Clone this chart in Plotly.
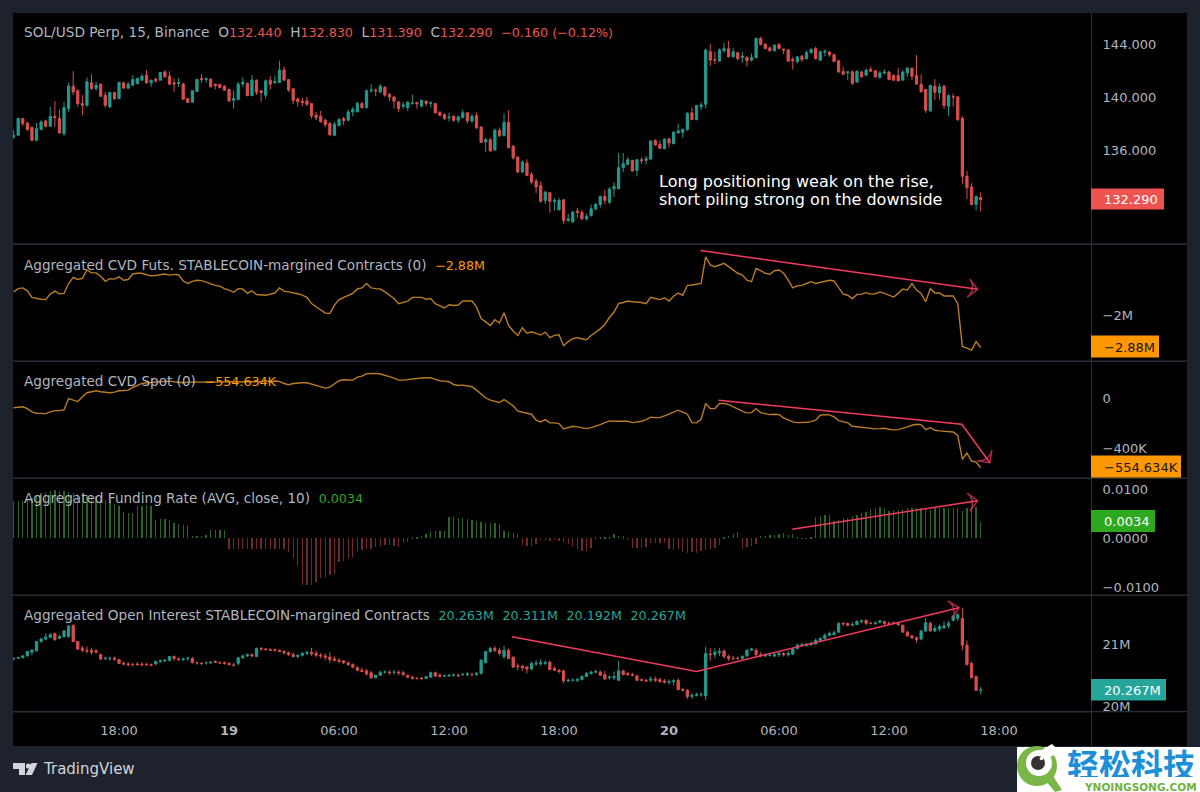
import plotly.graph_objects as go
import pandas as pd

# 15 minute bars
times = pd.date_range("2024-04-18 12:15", periods=212, freq="15min")

price_open = [
    137.00,137.13,138.39,138.06,137.71,136.75,137.56,138.21,137.81,138.56,
    138.39,137.26,139.14,140.83,140.48,139.52,139.39,141.08,140.65,140.98,
    140.15,139.27,140.35,139.90,141.08,140.68,140.90,141.03,141.28,141.66,
    141.08,141.36,141.28,141.91,141.58,141.08,141.03,141.00,139.90,139.62,
    140.43,141.41,141.33,141.36,140.98,140.95,140.83,140.58,139.77,139.82,
    141.00,141.05,140.12,141.28,140.48,140.15,141.28,141.08,141.11,142.04,
    141.33,140.63,139.87,139.70,139.72,139.52,138.64,138.56,138.26,138.01,
    137.13,137.86,138.39,138.26,138.89,138.89,139.52,139.22,140.48,140.53,
    140.40,140.75,140.20,140.02,139.65,139.32,139.22,139.50,139.60,139.32,
    139.70,139.52,139.52,138.87,138.69,138.46,138.56,138.26,138.46,138.82,
    138.21,138.61,137.76,136.63,136.80,136.02,137.51,137.10,138.11,136.30,
    135.49,134.36,135.04,134.19,133.68,133.33,132.22,132.80,132.15,131.52,
    132.27,130.71,130.61,131.42,131.32,130.84,131.07,131.59,131.92,132.53,
    132.07,133.10,133.10,134.69,134.94,135.24,134.49,135.29,135.24,135.34,
    136.75,136.45,136.12,136.85,136.50,137.31,137.36,137.56,138.82,138.31,
    139.27,139.47,143.42,142.84,142.72,143.50,143.65,143.04,143.35,142.99,
    142.99,142.79,142.97,144.43,144.00,143.72,143.50,143.95,143.62,143.55,
    142.84,142.67,143.09,142.89,143.35,143.67,142.79,143.39,143.39,143.19,
    142.74,141.94,141.83,141.91,141.13,141.89,141.66,142.09,141.99,141.48,
    141.83,141.89,141.63,141.63,141.28,141.83,142.19,141.63,140.98,140.58,
    138.97,140.83,140.33,140.83,139.32,140.07,140.02,138.41,134.04,133.23,131.92,132.44]
price_high = [
    137.51,138.46,138.44,138.14,137.81,138.06,138.26,138.31,139.27,139.72,
    139.07,139.65,141.08,141.96,140.58,140.15,141.48,141.73,141.16,141.03,
    140.40,140.40,140.40,141.16,141.16,141.16,141.66,141.48,141.73,142.04,
    141.33,141.48,141.91,142.01,141.96,141.41,141.46,141.08,139.95,140.53,
    141.41,141.73,141.48,141.41,141.03,141.03,140.90,140.65,140.53,141.16,
    141.48,141.08,141.66,141.33,140.53,141.33,141.58,141.63,142.74,142.31,
    141.33,140.65,139.97,139.97,140.02,139.55,138.89,138.97,138.39,138.14,
    138.14,138.46,138.51,139.07,139.27,139.65,139.65,140.58,140.98,140.65,
    140.98,140.83,140.33,140.07,139.70,139.65,139.72,140.20,139.65,139.82,
    139.77,139.70,139.57,138.94,138.77,138.84,138.64,138.64,139.07,138.87,
    138.72,138.84,137.81,136.93,136.95,137.63,137.71,138.77,139.02,136.40,
    135.54,135.24,135.32,134.36,133.86,133.68,132.93,132.85,132.43,132.43,
    132.30,131.22,131.42,131.67,131.52,131.22,131.92,132.02,132.58,133.03,
    133.23,133.61,135.80,135.80,135.49,135.29,135.34,135.49,135.57,136.75,
    136.83,136.75,136.90,136.95,137.43,138.01,137.66,138.89,139.22,139.42,
    139.60,143.67,144.00,143.42,143.67,144.10,144.23,143.72,143.42,143.42,
    143.09,143.29,144.50,144.55,144.05,143.80,143.97,144.10,143.67,143.62,
    143.04,143.09,143.17,143.50,143.67,143.80,143.50,143.60,143.50,143.29,
    142.79,142.29,141.99,142.04,142.04,141.99,142.16,142.29,142.04,141.99,
    142.09,141.99,141.73,142.19,142.04,142.24,142.21,143.17,141.73,140.63,
    140.95,141.36,141.03,140.93,140.23,140.28,140.07,138.56,134.44,133.53,132.58,132.83]
price_low = [
    136.88,137.13,137.81,137.46,136.70,136.70,137.56,137.71,137.81,137.76,
    137.26,137.05,138.89,140.15,139.27,138.64,139.27,140.53,140.48,140.02,
    139.19,139.19,139.82,139.87,140.65,140.63,140.88,140.95,141.23,141.03,
    140.78,141.08,141.28,141.48,140.95,140.40,140.78,139.82,139.55,139.60,
    140.38,141.08,141.08,140.73,140.58,140.65,140.48,139.65,139.14,139.77,
    140.78,140.07,140.07,140.17,139.65,139.90,140.58,141.03,141.08,141.26,
    140.40,139.47,139.27,139.32,139.32,138.39,138.26,138.06,137.76,137.11,
    137.05,137.81,137.89,138.21,138.56,138.87,139.14,139.14,140.33,140.07,
    140.28,140.02,139.72,139.14,138.89,139.12,138.97,139.47,139.14,139.27,
    139.32,139.22,138.77,138.56,138.26,138.16,138.14,138.06,138.41,138.01,
    138.06,137.63,136.55,135.87,135.90,136.00,137.00,137.05,136.15,135.29,
    134.29,134.29,134.04,133.43,132.78,132.07,131.97,131.29,131.47,131.47,
    130.46,130.61,130.51,130.92,130.76,130.71,131.02,131.47,131.67,131.92,
    131.97,132.48,133.10,134.36,134.87,134.39,134.04,134.99,134.94,135.29,
    136.35,136.10,136.07,136.20,136.45,137.26,136.95,137.46,138.26,138.26,
    139.02,139.14,142.34,142.49,142.67,143.35,142.99,142.99,142.79,142.59,
    142.29,142.69,142.92,143.90,143.60,143.42,143.45,143.60,143.24,142.67,
    142.09,142.54,142.67,142.84,143.29,142.84,142.74,143.09,143.04,142.64,
    141.83,141.68,141.28,140.93,141.08,141.48,141.58,141.89,141.48,141.41,
    141.68,141.28,141.23,141.18,141.23,141.53,141.28,140.93,140.33,138.82,
    138.87,139.77,139.82,139.12,138.59,139.27,138.21,133.48,132.32,131.87,131.47,131.39]
price_close = [
    137.13,138.39,138.01,137.56,136.75,137.63,138.14,137.81,138.56,138.46,
    137.31,139.22,140.83,140.40,139.52,139.39,141.16,140.65,140.90,140.07,
    139.39,140.35,139.87,141.11,140.68,140.98,141.33,141.41,141.58,141.08,
    141.28,141.23,141.86,141.53,140.98,141.00,141.11,139.85,139.60,140.48,
    141.33,141.33,141.41,140.78,140.88,140.73,140.53,139.72,139.90,140.98,
    141.13,140.12,141.28,140.38,140.35,141.23,140.98,141.18,142.04,141.28,
    140.53,139.77,139.65,139.60,139.47,138.59,138.44,138.16,137.94,137.16,
    137.96,138.31,138.24,138.89,139.07,139.52,139.22,140.48,140.53,140.48,
    140.83,140.15,140.02,139.70,139.14,139.42,139.62,139.55,139.50,139.77,
    139.52,139.57,138.82,138.64,138.39,138.51,138.26,138.51,138.82,138.21,
    138.56,137.68,136.60,136.80,135.95,137.51,137.10,138.09,136.20,135.44,
    134.36,135.12,134.11,133.61,133.23,132.15,132.85,132.15,132.22,132.22,
    130.71,130.84,131.34,131.32,130.84,131.02,131.59,131.92,132.53,132.22,
    133.08,133.28,134.69,134.99,135.29,134.44,135.29,135.22,135.37,136.70,
    136.40,136.15,136.85,136.55,137.36,137.46,137.56,138.77,138.31,139.37,
    139.42,143.55,142.79,142.79,143.55,143.65,143.04,143.42,142.89,143.09,
    142.74,142.99,144.43,143.97,143.67,143.50,143.92,143.67,143.55,142.72,
    142.74,143.04,142.84,143.35,143.60,142.89,143.42,143.45,143.19,142.69,
    141.91,141.73,141.89,141.03,141.94,141.53,142.04,141.96,141.53,141.83,
    141.89,141.33,141.28,141.23,141.89,142.19,141.58,140.98,140.43,139.02,
    140.88,140.38,140.78,139.37,140.12,140.02,138.31,134.04,133.18,131.92,132.53,132.29]

cvd_futs = [
    -1.36,-1.27,-1.25,-1.33,-1.51,-1.54,-1.56,-1.57,-1.42,-1.34,
    -1.41,-1.40,-1.13,-0.96,-1.02,-0.99,-0.76,-0.84,-0.84,-0.93,
    -1.07,-1.00,-1.01,-0.95,-1.04,-1.02,-0.87,-0.85,-0.85,-0.89,
    -0.92,-0.91,-0.88,-0.87,-0.90,-0.88,-0.89,-1.06,-1.13,-1.07,
    -1.04,-1.05,-1.09,-1.14,-1.18,-1.20,-1.27,-1.31,-1.37,-1.27,
    -1.28,-1.40,-1.33,-1.43,-1.45,-1.45,-1.42,-1.39,-1.25,-1.34,
    -1.36,-1.38,-1.41,-1.45,-1.51,-1.68,-1.77,-1.84,-1.94,-1.95,
    -1.72,-1.57,-1.51,-1.45,-1.40,-1.28,-1.25,-1.13,-1.25,-1.27,
    -1.28,-1.36,-1.45,-1.54,-1.68,-1.65,-1.61,-1.51,-1.50,-1.51,
    -1.56,-1.54,-1.68,-1.74,-1.80,-1.71,-1.73,-1.72,-1.61,-1.61,
    -1.61,-1.77,-2.09,-2.18,-2.28,-2.12,-2.21,-1.93,-2.28,-2.43,
    -2.55,-2.34,-2.49,-2.45,-2.50,-2.54,-2.46,-2.61,-2.55,-2.53,
    -2.83,-2.72,-2.64,-2.61,-2.64,-2.67,-2.55,-2.46,-2.37,-2.25,
    -2.06,-1.91,-1.68,-1.65,-1.61,-1.63,-1.63,-1.65,-1.68,-1.51,
    -1.54,-1.57,-1.52,-1.61,-1.48,-1.39,-1.45,-1.18,-1.17,-1.15,
    -1.13,-0.40,-0.62,-0.67,-0.62,-0.58,-0.67,-0.76,-0.85,-0.90,
    -1.04,-1.08,-0.72,-0.78,-0.85,-0.88,-0.78,-0.76,-0.85,-1.04,
    -1.25,-1.19,-1.18,-1.13,-1.08,-1.13,-1.10,-1.06,-1.04,-1.06,
    -1.25,-1.42,-1.45,-1.55,-1.43,-1.42,-1.38,-1.42,-1.41,-1.36,
    -1.40,-1.45,-1.50,-1.40,-1.28,-1.31,-1.13,-1.31,-1.40,-1.63,
    -1.27,-1.39,-1.39,-1.47,-1.47,-1.47,-1.68,-2.85,-2.90,-2.95,-2.72,-2.88]

# thousands
cvd_spot = [
    -77,-75,-69,-83,-109,-120,-123,-123,-109,-99,
    -99,-93,-3,-16,-27,11,43,51,59,51,
    45,43,48,59,61,64,85,104,117,123,
    125,128,131,131,136,131,128,123,128,128,
    131,133,133,133,133,133,133,133,133,133,
    133,133,128,131,131,139,128,136,133,117,
    107,117,123,123,123,112,101,91,80,88,
    117,139,147,144,144,168,176,195,197,197,
    192,184,171,160,144,144,149,155,157,160,
    163,163,149,139,136,131,109,101,104,99,
    91,64,37,3,-16,-27,-35,-11,-37,-61,
    -104,-112,-123,-128,-176,-189,-171,-197,-197,-203,
    -245,-237,-224,-229,-237,-243,-235,-224,-211,-195,
    -181,-184,-184,-187,-184,-195,-189,-184,-171,-152,
    -155,-155,-141,-128,-109,-96,-112,-128,-195,-197,
    -168,-43,-83,-83,-43,-43,-51,-69,-91,-104,
    -117,-115,-83,-115,-123,-131,-128,-131,-157,-176,
    -189,-195,-195,-192,-187,-176,-136,-131,-133,-149,
    -179,-189,-197,-224,-229,-229,-235,-240,-245,-243,
    -240,-248,-253,-251,-237,-229,-216,-208,-211,-251,
    -235,-256,-261,-264,-269,-269,-296,-488,-437,-501,-509,-554.634]

funding = [
    .0077,.0077,.0079,.0081,.0082,.0086,.0092,.0095,.0097,.0098,
    .0097,.0096,.0095,.0092,.0091,.0090,.0089,.0088,.0086,.0084,
    .0079,.0075,.0070,.0065,.0053,.0051,.0051,.0065,.0066,.0067,
    .0066,.0038,.0039,.0040,.0038,.0032,.0029,.0027,.0027,.0005,
    .0005,.0005,.0006,.0017,.0017,.0017,.0017,-.0021,-.0021,-.0021,
    -.0021,-.0021,-.0021,-.0021,-.0021,-.0021,-.0021,-.0022,-.0022,-.0023,
    -.0029,-.0041,-.0056,-.0095,-.0095,-.0095,-.0090,-.0082,-.0079,-.0075,
    -.0074,-.0048,-.0047,-.0042,-.0040,-.0026,-.0024,-.0021,-.0021,-.0017,
    -.0015,-.0014,-.0014,-.0015,-.0017,-.0010,-.0007,.0002,.0003,.0005,
    .0008,.0015,.0015,.0015,.0015,.0043,.0043,.0042,.0041,.0040,
    .0038,.0036,.0034,.0032,.0031,.0031,.0029,.0014,.0012,.0010,
    .0008,-.0014,-.0015,-.0015,-.0012,-.0003,-.0003,-.0005,-.0004,-.0005,
    -.0007,-.0012,-.0017,-.0022,-.0026,-.0026,-.0019,.0002,.0001,.0002,
    .0003,.0008,.0005,.0004,-.0003,-.0019,-.0019,-.0019,-.0017,-.0010,
    -.0010,-.0010,-.0010,-.0021,-.0024,-.0022,-.0029,-.0031,-.0029,-.0031,
    -.0027,-.0024,-.0021,-.0019,-.0014,.0003,.0005,.0008,.0012,-.0021,
    -.0018,-.0016,-.0012,.0005,.0005,.0007,.0007,.0009,.0010,.0007,
    .0008,.0003,-.0001,-.0001,.0001,.0043,.0045,.0047,.0048,.0036,
    .0038,.0041,.0042,.0045,.0048,.0051,.0053,.0060,.0062,.0063,
    .0062,.0056,.0057,.0058,.0060,.0062,.0062,.0062,.0062,.0062,
    .0058,.0062,.0062,.0062,.0062,.0062,.0062,.0056,.0062,.0063,.0064,.0034]

oi_open = [
    20.76,20.77,20.78,20.81,20.87,20.89,21.04,21.08,21.11,21.17,
    21.09,21.12,21.12,21.30,21.04,20.93,20.90,20.90,20.89,20.83,
    20.77,20.77,20.77,20.75,20.69,20.68,20.67,20.68,20.68,20.67,
    20.67,20.68,20.72,20.73,20.74,20.80,20.76,20.75,20.77,20.77,
    20.70,20.69,20.70,20.70,20.72,20.70,20.70,20.69,20.66,20.69,
    20.78,20.81,20.83,20.80,20.93,20.92,20.91,20.91,20.90,20.88,
    20.86,20.83,20.80,20.82,20.85,20.87,20.85,20.82,20.81,20.79,
    20.76,20.74,20.73,20.70,20.67,20.62,20.58,20.57,20.54,20.46,
    20.50,20.55,20.55,20.55,20.55,20.54,20.50,20.47,20.45,20.45,
    20.45,20.47,20.54,20.50,20.49,20.49,20.50,20.50,20.51,20.51,
    20.51,20.51,20.53,20.70,20.88,20.93,20.90,20.80,20.90,20.79,
    20.65,20.64,20.63,20.60,20.68,20.69,20.69,20.71,20.61,20.58,
    20.57,20.41,20.42,20.42,20.43,20.48,20.53,20.55,20.55,20.51,
    20.46,20.46,20.42,20.57,20.53,20.51,20.49,20.43,20.42,20.42,
    20.44,20.43,20.41,20.39,20.40,20.42,20.27,20.26,20.16,20.18,
    20.19,20.17,20.84,20.83,20.86,20.89,20.80,20.77,20.77,20.77,
    20.81,20.90,20.90,20.83,20.81,20.82,20.81,20.83,20.85,20.83,
    20.84,20.93,20.98,20.98,20.99,21.00,21.06,21.09,21.14,21.15,
    21.19,21.33,21.33,21.30,21.31,21.36,21.38,21.33,21.33,21.35,
    21.36,21.33,21.34,21.33,21.30,21.19,21.13,21.10,21.08,21.21,
    21.33,21.21,21.24,21.26,21.29,21.38,21.41,21.41,20.98,20.69,20.48,20.263]
oi_high = [
    20.78,20.79,20.82,20.89,20.92,21.05,21.10,21.17,21.17,21.18,
    21.15,21.22,21.30,21.31,21.05,20.97,20.96,20.94,20.92,20.85,
    20.80,20.80,20.80,20.76,20.72,20.71,20.70,20.71,20.71,20.70,
    20.69,20.73,20.75,20.76,20.81,20.82,20.79,20.78,20.80,20.79,
    20.72,20.71,20.72,20.72,20.74,20.72,20.72,20.71,20.70,20.79,
    20.83,20.85,20.85,20.94,20.95,20.94,20.93,20.93,20.91,20.90,
    20.88,20.87,20.83,20.87,20.88,20.94,20.89,20.86,20.85,20.87,
    20.80,20.77,20.74,20.72,20.69,20.65,20.62,20.60,20.57,20.51,
    20.57,20.58,20.58,20.58,20.58,20.57,20.51,20.49,20.47,20.47,
    20.49,20.56,20.56,20.53,20.51,20.52,20.53,20.53,20.54,20.55,
    20.54,20.55,20.76,20.89,20.95,20.97,20.94,20.97,20.93,20.80,
    20.69,20.67,20.65,20.72,20.74,20.76,20.74,20.73,20.64,20.60,
    20.59,20.45,20.45,20.46,20.50,20.55,20.57,20.59,20.58,20.57,
    20.50,20.56,20.73,20.59,20.55,20.54,20.51,20.45,20.44,20.48,
    20.48,20.46,20.44,20.43,20.44,20.45,20.30,20.28,20.21,20.22,
    20.23,20.96,20.93,20.93,20.94,20.91,20.83,20.81,20.80,20.82,
    20.92,20.94,20.93,20.87,20.85,20.85,20.87,20.88,20.87,20.89,
    20.94,21.01,21.02,21.02,21.04,21.09,21.11,21.17,21.20,21.22,
    21.35,21.35,21.34,21.35,21.38,21.39,21.39,21.36,21.36,21.38,
    21.37,21.36,21.36,21.35,21.31,21.21,21.15,21.12,21.22,21.42,
    21.36,21.30,21.31,21.36,21.37,21.45,21.49,21.58,21.06,20.72,20.49,20.311]
oi_low = [
    20.74,20.76,20.77,20.80,20.82,20.88,21.02,21.06,21.09,21.05,
    21.08,21.10,21.10,21.03,20.90,20.87,20.85,20.83,20.85,20.74,
    20.74,20.73,20.73,20.68,20.66,20.64,20.64,20.65,20.64,20.65,
    20.65,20.66,20.70,20.71,20.72,20.73,20.73,20.73,20.73,20.69,
    20.67,20.66,20.67,20.68,20.70,20.68,20.67,20.66,20.64,20.66,
    20.76,20.79,20.79,20.79,20.89,20.90,20.89,20.88,20.87,20.83,
    20.81,20.78,20.77,20.80,20.82,20.81,20.79,20.77,20.74,20.70,
    20.72,20.70,20.68,20.65,20.61,20.57,20.55,20.50,20.44,20.45,
    20.49,20.53,20.51,20.51,20.50,20.49,20.45,20.43,20.43,20.42,
    20.44,20.46,20.47,20.47,20.47,20.47,20.48,20.48,20.49,20.48,
    20.49,20.49,20.51,20.69,20.86,20.87,20.82,20.76,20.76,20.62,
    20.58,20.57,20.53,20.58,20.65,20.65,20.66,20.58,20.57,20.53,
    20.37,20.39,20.40,20.39,20.42,20.47,20.51,20.53,20.49,20.43,
    20.43,20.42,20.41,20.50,20.49,20.48,20.41,20.40,20.39,20.39,
    20.39,20.38,20.37,20.35,20.34,20.26,20.24,20.12,20.12,20.16,
    20.16,20.10,20.73,20.77,20.81,20.77,20.73,20.74,20.74,20.75,
    20.79,20.89,20.80,20.79,20.79,20.80,20.79,20.79,20.80,20.80,
    20.82,20.91,20.96,20.96,20.97,20.99,21.04,21.07,21.12,21.14,
    21.18,21.29,21.28,21.29,21.30,21.33,21.30,21.31,21.30,21.33,
    21.30,21.30,21.31,21.29,21.18,21.12,21.08,21.02,21.06,21.19,
    21.20,21.19,21.20,21.24,21.25,21.36,21.37,20.90,20.66,20.45,20.25,20.192]
oi_close = [
    20.77,20.78,20.81,20.88,20.90,21.04,21.08,21.11,21.15,21.07,
    21.12,21.21,21.29,21.04,20.92,20.90,20.89,20.87,20.87,20.76,
    20.77,20.77,20.76,20.69,20.68,20.67,20.67,20.67,20.67,20.67,
    20.66,20.72,20.73,20.74,20.80,20.77,20.75,20.76,20.77,20.70,
    20.70,20.69,20.70,20.71,20.71,20.70,20.69,20.67,20.66,20.78,
    20.81,20.83,20.81,20.93,20.92,20.91,20.90,20.90,20.88,20.86,
    20.83,20.80,20.82,20.85,20.87,20.84,20.82,20.81,20.79,20.75,
    20.74,20.72,20.70,20.67,20.63,20.58,20.56,20.52,20.46,20.50,
    20.55,20.55,20.54,20.55,20.54,20.51,20.47,20.45,20.45,20.45,
    20.48,20.54,20.49,20.48,20.49,20.50,20.50,20.49,20.51,20.52,
    20.51,20.53,20.74,20.88,20.93,20.90,20.85,20.90,20.77,20.63,
    20.64,20.62,20.60,20.69,20.69,20.70,20.70,20.59,20.58,20.56,
    20.41,20.42,20.42,20.43,20.48,20.53,20.55,20.56,20.50,20.44,
    20.47,20.48,20.57,20.51,20.51,20.50,20.42,20.42,20.41,20.44,
    20.42,20.40,20.39,20.40,20.41,20.27,20.26,20.16,20.18,20.19,
    20.19,20.85,20.83,20.87,20.88,20.80,20.77,20.77,20.77,20.80,
    20.90,20.92,20.83,20.81,20.82,20.82,20.83,20.85,20.83,20.85,
    20.92,20.98,20.99,20.99,21.01,21.06,21.09,21.14,21.17,21.18,
    21.33,21.32,21.30,21.31,21.36,21.37,21.33,21.33,21.34,21.37,
    21.33,21.33,21.33,21.31,21.19,21.13,21.10,21.07,21.21,21.34,
    21.21,21.25,21.28,21.29,21.33,21.45,21.47,20.98,20.67,20.46,20.26,20.267]

# hand drawn trend arrows
futs_arrow_t = ["2024-04-20 01:43", "2024-04-20 16:50"]
futs_arrow_v = [-0.23, -1.29]
spot_arrow_t = ["2024-04-20 02:42", "2024-04-20 15:58", "2024-04-20 17:30"]
spot_arrow_v = [-16, -208, -514]
fund_arrow_t = ["2024-04-20 06:43", "2024-04-20 16:50"]
fund_arrow_v = [0.00185, 0.00766]
oi_arrow_t = ["2024-04-19 15:26", "2024-04-20 01:30", "2024-04-20 15:49"]
oi_arrow_v = [21.117, 20.562, 21.58]

time_ticks = ["2024-04-18 18:00", "2024-04-19 00:00", "2024-04-19 06:00", "2024-04-19 12:00",
              "2024-04-19 18:00", "2024-04-20 00:00", "2024-04-20 06:00", "2024-04-20 12:00",
              "2024-04-20 18:00"]
time_labels = ["18:00", "<b>19</b>", "06:00", "12:00", "18:00", "<b>20</b>", "06:00", "12:00", "18:00"]

W, H = 1200, 792
FONT = "DejaVu Sans"
GREY = "#b2b5be"
UP = "#26a69a"
DOWN = "#ef5350"
CANDLE_UP = "#239a8e"
CANDLE_DOWN = "#d94f4c"
ARROW = "#f23b5c"
LINE = "#b97c25"
BORDER = "#2a2e39"
OUTER = "#1e222d"


def px(x):
    return x / W


def py(y):
    return 1 - y / H


def box(x0, y0, x1, y1, color, layer="below", **kw):
    return dict(type="rect", xref="paper", yref="paper", x0=px(x0), x1=px(x1), y0=py(y0), y1=py(y1),
                fillcolor=color, line_width=0, layer=layer, **kw)


def circle(cx, cy, r, color):
    return dict(type="circle", xref="paper", yref="paper", x0=px(cx - r), x1=px(cx + r), y0=py(cy + r), y1=py(cy - r),
                fillcolor=color, line_width=0, layer="above")


def poly(points, color):
    path = "M " + " L ".join(f"{px(a):.5f},{py(b):.5f}" for a, b in points) + " Z"
    return dict(type="path", xref="paper", yref="paper", path=path, fillcolor=color, line_width=0, layer="above")


def label(x, y, text, size=13, color=GREY, anchor="left", family=FONT, height=None):
    return dict(xref="paper", yref="paper", x=px(x), y=py(y), text=text, showarrow=False, xanchor=anchor,
                yanchor="middle", align="left", font=dict(family=family, size=size, color=color), borderpad=0,
                height=height)


def span(text, color, size=12.7):
    return f'<span style="color:{color};font-size:{size}px">{text}</span>'


def trend(t, v, yaxis):
    sizes = [0] * (len(t) - 1) + [13]
    return go.Scatter(x=t, y=v, yaxis=yaxis, mode="lines+markers", line=dict(color=ARROW, width=1.5),
                      marker=dict(symbol="arrow-wide-open", size=sizes, angleref="previous", color=ARROW,
                                  line=dict(color=ARROW, width=1.5)), hoverinfo="skip")


fig = go.Figure()
fig.add_trace(go.Candlestick(
    x=times, open=price_open, high=price_high, low=price_low, close=price_close, yaxis="y",
    increasing_fillcolor=CANDLE_UP, increasing_line_color=CANDLE_UP,
    decreasing_fillcolor=CANDLE_DOWN, decreasing_line_color=CANDLE_DOWN, line_width=1))
fig.add_trace(go.Scatter(x=times, y=cvd_futs, yaxis="y2", mode="lines", line=dict(color=LINE, width=1.4)))
fig.add_trace(trend(futs_arrow_t, futs_arrow_v, "y2"))
fig.add_trace(go.Scatter(x=times, y=cvd_spot, yaxis="y3", mode="lines", line=dict(color=LINE, width=1.4)))
fig.add_trace(trend(spot_arrow_t, spot_arrow_v, "y3"))
fig.add_trace(go.Bar(x=times, y=funding, yaxis="y4", width=60000, marker_line_width=0,
                     marker_color=["#2b6427" if v >= 0 else "#702828" for v in funding]))
fig.add_trace(trend(fund_arrow_t, fund_arrow_v, "y4"))
fig.add_trace(go.Candlestick(
    x=times, open=oi_open, high=oi_high, low=oi_low, close=oi_close, yaxis="y5",
    increasing_fillcolor=CANDLE_UP, increasing_line_color=CANDLE_UP,
    decreasing_fillcolor=CANDLE_DOWN, decreasing_line_color=CANDLE_DOWN, line_width=1))
fig.add_trace(trend(oi_arrow_t, oi_arrow_v, "y5"))


def right_axis(top, bottom, vmax, vmin, vals, texts):
    return dict(domain=[py(bottom), py(top)], range=[vmin, vmax], side="right", anchor="x", tickvals=vals,
                ticktext=texts, showgrid=False, zeroline=False, showline=False, ticks="outside", ticklen=8,
                tickcolor="rgba(0,0,0,0)", tickfont=dict(family=FONT, size=13, color=GREY), fixedrange=True,
                automargin=False)


shapes = [
    box(13, 13, 1187, 746, "#000000"),
    box(13, 243.5, 1187, 245, BORDER),
    box(13, 360.5, 1187, 362, BORDER),
    box(13, 477.5, 1187, 479, BORDER),
    box(13, 594.5, 1187, 596, BORDER),
    box(13, 711, 1187, 712.5, BORDER),
    box(1091, 13, 1092, 746, BORDER),
    # value tags
    box(1092, 712.5, 1187, 746, "#000000", layer="above"),
    box(1091, 188.5, 1164, 209.5, DOWN, layer="above"),
    box(1091, 335.5, 1159, 357.5, "#ff9800", layer="above"),
    box(1091, 455.5, 1181, 477.5, "#ff9800", layer="above"),
    box(1091, 510, 1155, 532, "#2ea81e", layer="above"),
    box(1091, 679, 1166, 700.5, UP, layer="above"),
    # TradingView mark
    poly([(13, 763), (25, 763), (25, 775), (19, 775), (19, 769), (13, 769)], "#d1d4dc"),
    circle(28.5, 766, 2.6, "#d1d4dc"),
    poly([(31.5, 763), (37.5, 763), (32, 775), (25.5, 775)], "#d1d4dc"),
    # site watermark
    box(1017, 747, 1200, 792, "#ffffff", layer="above"),
    circle(1037, 766, 20, "#7ab648"),
    poly([(1046, 781), (1053, 776), (1062, 790), (1055, 792)], "#7ab648"),
    circle(1039, 763, 13, "#ffffff"),
    poly([(1040, 751), (1052, 744), (1060, 752), (1048, 758)], "#ffffff"),
    circle(1038, 763, 7, "#333333"),
    circle(1041.5, 758.5, 1.8, "#ffffff"),
]

annotations = [
    label(23, 32, "SOL/USD Perp, 15, Binance\u00a0\u00a0O" + span("132.440", DOWN) + "\u00a0\u00a0H" + span("132.830", DOWN)
          + "\u00a0\u00a0L" + span("131.390", DOWN) + "\u00a0\u00a0C" + span("132.290", DOWN) + "\u00a0\u00a0"
          + span("\u22120.160 (\u22120.12%)", DOWN), size=13.7),
    label(23, 265, "Aggregated CVD Futs. STABLECOIN-margined Contracts (0)\u00a0\u00a0" + span("\u22122.88M", "#ff9800"), size=13.6),
    label(23, 381, "Aggregated CVD Spot (0)\u00a0\u00a0" + span("\u2212554.634K", "#ff9800"), size=13.6),
    label(23, 498, "Aggregated Funding Rate (AVG, close, 10)\u00a0\u00a0" + span("0.0034", "#2ea81e"), size=13.6),
    label(23, 615, "Aggregated Open Interest STABLECOIN-margined Contracts\u00a0\u00a0" + span("20.263M", UP) + "\u00a0\u00a0"
          + span("20.311M", UP) + "\u00a0\u00a0" + span("20.192M", UP) + "\u00a0\u00a0" + span("20.267M", UP), size=13.6),
    label(658, 181, "Long positioning weak on the rise,", size=16, color="#ffffff"),
    label(658, 199, "short piling strong on the downside", size=16, color="#ffffff"),
    label(1103, 199, "132.290", color="#ffffff"),
    label(1103, 347, "\u22122.88M", color="#131722"),
    label(1103, 467, "\u2212554.634K", color="#131722"),
    label(1103, 521, "0.0034", color="#ffffff"),
    label(1103, 690, "20.267M", color="#ffffff"),
    label(42, 769, "TradingView", size=15, color="#d1d4dc"),
    label(1066, 762.5, "<b>轻松科技</b>", size=32, color="#1b8fd8", family="Noto Sans CJK SC", height=28),
    label(1083, 786.5, "<b>YNQINGSONG.COM</b>", size=10.5, color="#6fb23f", height=9),
]

fig.update_layout(
    width=W, height=H, margin=dict(l=0, r=0, t=0, b=0), autosize=False,
    paper_bgcolor=OUTER, plot_bgcolor="rgba(0,0,0,0)", showlegend=False, bargap=0,
    font=dict(family=FONT, size=13, color=GREY),
    xaxis=dict(domain=[px(13), px(1091)], anchor="y5", range=["2024-04-18 12:13", "2024-04-20 23:01"],
               rangeslider_visible=False, showgrid=False, zeroline=False, showline=False, tickvals=time_ticks,
               ticktext=time_labels, ticks="outside", ticklen=7, tickcolor="rgba(0,0,0,0)",
               tickangle=0, tickfont=dict(family=FONT, size=13, color=GREY), fixedrange=True, automargin=False),
    yaxis=right_axis(13, 243.5, 146.34, 128.98, [136, 140, 144], ["136.000", "140.000", "144.000"]),
    yaxis2=right_axis(245, 360.5, -0.077, -3.236, [-2], ["\u22122M"]),
    yaxis3=right_axis(362, 477.5, 288, -632, [0, -400], ["0", "\u2212400K"]),
    yaxis4=right_axis(479, 594.5, 0.0121, -0.0115, [0.01, 0, -0.01], ["0.0100", "0.0000", "\u22120.0100"]),
    yaxis5=right_axis(596, 711, 21.768, 19.928, [20, 21], ["20M", "21M"]),
    shapes=shapes,
    annotations=annotations,
)

# the page's default margin and overflow would push the 1200x792 figure out of the window
fig.write_html("out.html", config={"displayModeBar": False},
               post_script="document.documentElement.style.overflow='hidden';"
                           "document.body.style.cssText='margin:0;height:792px;overflow:hidden';")
